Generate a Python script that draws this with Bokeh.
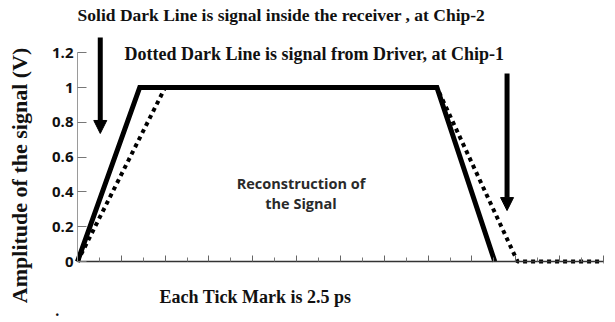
import math
from bokeh.plotting import figure
from bokeh.models import Range1d, FixedTicker, LinearAxis, Label, Arrow, NormalHead
from bokeh.embed import file_html
from bokeh.resources import INLINE

# Signal edges: time in picoseconds, amplitude in volts
receiver_time = [0.0, 7.1, 41.0, 47.6]
receiver_amp = [0.0, 1.0, 1.0, 0.0]
driver_time = [0.0, 10.0, 41.0, 50.2, 60.0]
driver_amp = [0.0, 1.0, 1.0, 0.0, 0.0]

# Axis ticks
amp_ticks = [0, 0.2, 0.4, 0.6, 0.8, 1, 1.2]
amp_tick_labels = ["0", "0.2", "0.4", "0.6", "0.8", "1", "1.2"]
tick_step_ps = 2.5
time_end_ps = 60

SERIF = "Liberation Serif"
SANS = "Open Sans"

# The frame fills the canvas; both axes sit at the origin
p = figure(width=615, height=322,
           x_range=Range1d(-8.78, 61.37), y_range=Range1d(-0.35, 1.5),
           output_backend="svg", toolbar_location=None, min_border=0)
p.outline_line_color = None
p.grid.grid_line_color = None
p.background_fill_color = "white"
p.border_fill_color = "white"

# Amplitude axis
ya = p.yaxis[0]
ya.fixed_location = 0
ya.ticker = FixedTicker(ticks=amp_ticks)
ya.major_label_overrides = {t: s for t, s in zip(amp_ticks, amp_tick_labels)}
ya.bounds = (0, 1.2)
ya.axis_line_color = "#9a9a9a"
ya.axis_line_width = 1
ya.major_tick_in = 9
ya.major_tick_out = 0
ya.major_tick_line_color = "#777777"
ya.minor_tick_line_color = None
ya.major_label_standoff = 4
ya.major_label_text_font = SANS
ya.major_label_text_font_style = "bold"
ya.major_label_text_font_size = "15px"
ya.major_label_text_color = "#111111"

# Time axis: unlabeled, one tick per 2.5 ps, every second tick a bit taller
all_ticks = [tick_step_ps * k for k in range(1, int(time_end_ps / tick_step_ps) + 1)]
tall_ticks = all_ticks[1::2]
short_ticks = all_ticks[0::2]

xa = p.xaxis[0]
xa.fixed_location = 0
xa.ticker = FixedTicker(ticks=[], minor_ticks=tall_ticks)
xa.bounds = (0, time_end_ps)
xa.axis_line_color = "#333333"
xa.axis_line_width = 1.5
xa.minor_tick_in = 6
xa.minor_tick_out = 0
xa.minor_tick_line_color = "#666666"

xa2 = LinearAxis(fixed_location=0, ticker=FixedTicker(ticks=[], minor_ticks=short_ticks),
                 axis_line_color=None, minor_tick_in=4, minor_tick_out=0,
                 minor_tick_line_color="#777777")
p.add_layout(xa2, "below")

# Driver signal (dotted) under the receiver signal (solid)
p.line(driver_time, driver_amp, line_color="black", line_width=4, line_dash="4 4")
p.line(receiver_time, receiver_amp, line_color="black", line_width=5, line_join="miter")

# Pointer arrows
for x, y0, y1 in [(2.6, 1.287, 0.736), (49.0, 1.08, 0.293)]:
    p.add_layout(Arrow(end=NormalHead(size=13, fill_color="black", line_color="black"),
                       x_start=x, y_start=y0, x_end=x, y_end=y1,
                       line_color="black", line_width=5))

def note(x, y, text, font, size, color="#111111", angle=0.0):
    p.add_layout(Label(x=x, y=y, text=text, text_align="center", text_baseline="middle",
                       text_font=font, text_font_style="bold", text_font_size=size,
                       text_color=color, angle=angle))

note(-6.6, 0.495, "Amplitude of the signal (V)", SERIF, "22px", angle=math.pi / 2)
note(23.26, 1.414, "Solid Dark Line is signal inside the receiver , at Chip-2", SERIF, "17.5px")
note(27.0, 1.195, "Dotted Dark Line is signal from Driver, at Chip-1", SERIF, "18px")
note(25.5, 0.448, "Reconstruction of", SANS, "14.5px", "#2a2a2a")
note(25.5, 0.333, "the Signal", SANS, "14.5px", "#2a2a2a")
note(20.3, -0.201, "Each Tick Mark is 2.5 ps", SERIF, "18px")
note(-2.3, -0.28, ".", SERIF, "16px")

open("out.html", "w").write(file_html(p, INLINE))
